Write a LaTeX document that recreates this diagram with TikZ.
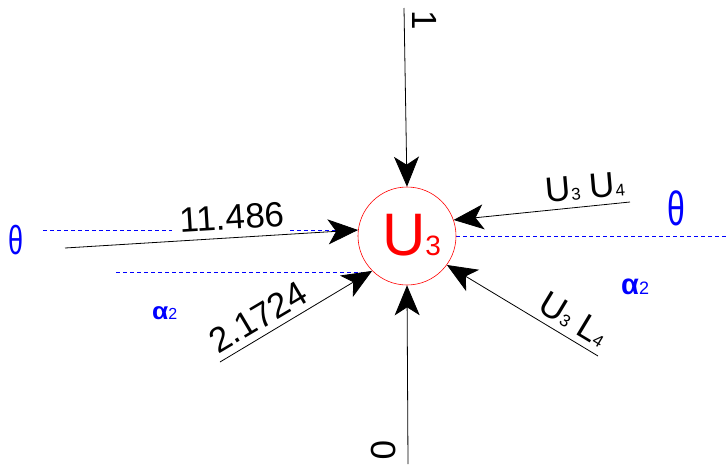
\documentclass[tikz,border=0pt]{standalone}
\usepackage{fontspec}
\setmainfont{Liberation Sans}
\usetikzlibrary{arrows.meta}
\newcommand{\fsz}[1]{\fontsize{#1}{#1}\selectfont}
\begin{document}
\begin{tikzpicture}[x=1pt,y=-1pt,
  arr/.style={draw=black,line width=0.8pt,-{Stealth[length=30pt,width=25pt,inset=8pt]}},
  dsh/.style={draw=blue,line width=0.8pt,dash pattern=on 4pt off 3pt},
  lbl/.style={inner sep=0pt,text=black},
  grk/.style={inner sep=0pt,text=blue}]
\useasboundingbox (0,0) rectangle (727,464);
% dashed reference lines
\draw[dsh] (43,230) -- (172,230);
\draw[dsh] (290,230) -- (357,230);
\draw[dsh] (116,272) -- (362,272);
\draw[dsh] (456,236) -- (727,236);
% central node
\node[circle,draw=red,line width=0.6pt,minimum size=98pt,inner sep=0pt] (u3) at (407,236) {};
\node[anchor=base,inner sep=0pt,text=red] (u3t) at (411.5,255) {\fsz{60}U\fsz{28}3};
% free ends
\coordinate (ctop) at (404,8);
\coordinate (cbot) at (408,464);
\coordinate (cl1) at (65,248);
\coordinate (cl2) at (220,362);
\coordinate (cr1) at (630,202);
\coordinate (cr2) at (598,356);
% connectors
\draw[arr] (ctop) -- (u3.90);
\draw[arr] (cbot) -- (u3.270);
\draw[arr] (cl1) -- (u3.173);
\draw[arr] (cl2) -- (u3.225);
\draw[arr] (cr1) -- (u3.19);
\draw[arr] (cr2) -- (u3.-36);
% labels
\node[lbl,rotate=-90] (l1) at (425,20) {\fsz{35}1};
\node[lbl,rotate=-90] (l0) at (384,450) {\fsz{35}0};
\node[lbl,rotate=3.5] (la) at (232,217) {\fsz{35}11.486};
\node[lbl,rotate=30.7] (lb) at (258,317) {\fsz{35}2.1724};
\node[lbl,rotate=5] (lc) at (585,187) {\fsz{35}U\fsz{17}3\fsz{35} U\fsz{17}4};
\node[lbl,rotate=-31] (ld) at (574,319) {\fsz{35}U\fsz{17}3\fsz{35} L\fsz{17}4};
% greek symbols
\node[grk] (th1) at (16,240) {\scalebox{1}[1.5]{\fsz{27}θ}};
\node[grk] (th2) at (676,208) {\scalebox{1}[1.5]{\fsz{32}θ}};
\node[grk,anchor=base west] (al1) at (152,319) {\scalebox{1.1}[1]{\fsz{24}\bfseries α}\fsz{16}2};
\node[grk,anchor=base west] (al2) at (621,294) {{\fsz{29}\bfseries α}\fsz{18}2};
\end{tikzpicture}
\end{document}
